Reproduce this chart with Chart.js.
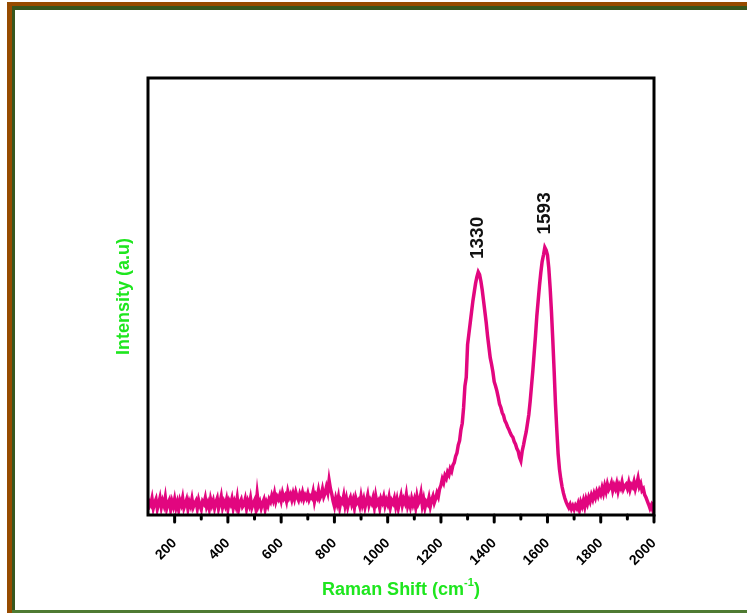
<!DOCTYPE html>
<html><head><meta charset="utf-8">
<script src="https://cdn.jsdelivr.net/npm/chart.js@4.4.0/dist/chart.umd.min.js"></script>
<style>
html,body{margin:0;padding:0;background:#fff;width:747px;height:613px;overflow:hidden}
#wrap{position:relative;width:747px;height:613px}
.b{position:absolute}
canvas{position:absolute;left:0;top:0}
</style></head><body>
<div id="wrap">
<div class="b" style="left:7px;top:2px;width:740px;height:4px;background:#964B00"></div>
<div class="b" style="left:7px;top:2px;width:5px;height:611px;background:#964B00"></div>
<div class="b" style="left:12px;top:6px;width:735px;height:4px;background:#37561E"></div>
<div class="b" style="left:12px;top:6px;width:3px;height:607px;background:#37561E"></div>
<div class="b" style="left:12px;top:610px;width:735px;height:3px;background:#4E7A32"></div>
<canvas id="c" width="747" height="613"></canvas>
</div>
<script>
const ramanShift = [
 100,105,110,115,120,125,130,135,140,145,150,155,160,165,170,175,180,185,190,195,
 200,205,210,215,220,225,230,235,240,245,250,255,260,265,270,275,280,285,290,295,
 300,305,310,315,320,325,330,335,340,345,350,355,360,365,370,375,380,385,390,395,
 400,405,410,415,420,425,430,435,440,445,450,455,460,465,470,475,480,485,490,495,
 500,505,510,515,520,525,530,535,540,545,550,555,560,565,570,575,580,585,590,595,
 600,605,610,615,620,625,630,635,640,645,650,655,660,665,670,675,680,685,690,695,
 700,705,710,715,720,725,730,735,740,745,750,755,760,765,770,775,780,785,790,795,
 800,805,810,815,820,825,830,835,840,845,850,855,860,865,870,875,880,885,890,895,
 900,905,910,915,920,925,930,935,940,945,950,955,960,965,970,975,980,985,990,995,
 1000,1005,1010,1015,1020,1025,1030,1035,1040,1045,1050,1055,1060,1065,1070,1075,1080,1085,1090,1095,
 1100,1105,1110,1115,1120,1125,1130,1135,1140,1145,1150,1155,1160,1165,1170,1175,1180,1185,1190,1195,
 1200,1205,1210,1215,1220,1225,1230,1235,1240,1245,1250,1255,1260,1265,1270,1275,1280,1285,1290,1295,
 1300,1305,1310,1315,1320,1325,1330,1335,1340,1345,1350,1355,1360,1365,1370,1375,1380,1385,1390,1395,
 1400,1405,1410,1415,1420,1425,1430,1435,1440,1445,1450,1455,1460,1465,1470,1475,1480,1485,1490,1495,
 1500,1505,1510,1515,1520,1525,1530,1535,1540,1545,1550,1555,1560,1565,1570,1575,1580,1585,1590,1595,
 1600,1605,1610,1615,1620,1625,1630,1635,1640,1645,1650,1655,1660,1665,1670,1675,1680,1685,1690,1695,
 1700,1705,1710,1715,1720,1725,1730,1735,1740,1745,1750,1755,1760,1765,1770,1775,1780,1785,1790,1795,
 1800,1805,1810,1815,1820,1825,1830,1835,1840,1845,1850,1855,1860,1865,1870,1875,1880,1885,1890,1895,
 1900,1905,1910,1915,1920,1925,1930,1935,1940,1945,1950,1955,1960,1965,1970,1975,1980,1985,1990,1995,
 2000
];
const intensity = [
 1.2,3.0,2.4,3.8,1.6,2.8,3.6,1.4,2.6,3.9,1.8,3.2,2.2,4.0,1.5,2.7,3.4,1.3,3.1,2.0,
 3.6,1.7,2.9,1.2,3.3,2.4,3.9,1.6,2.5,3.5,1.4,3.0,2.1,3.7,1.8,2.6,3.2,1.5,3.4,2.2,
 1.3,3.1,2.6,3.9,1.9,2.8,1.4,3.6,2.3,3.3,1.6,2.9,3.8,1.5,2.7,4.2,1.8,3.0,2.1,3.5,
 1.4,3.2,2.5,3.7,1.6,3.0,2.0,3.9,1.3,2.8,3.5,1.9,2.4,3.6,1.5,3.1,2.2,3.8,1.7,2.6,
 3.3,1.5,4.8,2.2,3.0,1.6,2.7,3.5,1.4,2.9,2.1,3.6,3.0,4.4,3.4,4.9,3.1,4.2,3.6,4.6,
 3.3,5.0,3.8,4.4,3.2,5.3,4.0,4.7,3.5,4.9,3.7,5.2,4.1,3.4,4.8,3.9,5.1,3.6,4.5,3.8,
 4.9,3.5,4.3,3.9,5.3,3.1,4.6,4.0,5.6,3.8,4.5,5.9,4.2,5.0,6.4,5.2,7.9,6.0,4.8,3.2,
 2.0,3.8,2.6,4.1,1.8,3.4,2.9,4.4,2.2,3.7,1.9,3.2,4.0,2.5,3.5,1.7,3.9,2.8,3.3,2.1,
 4.2,2.4,3.6,1.8,3.1,4.5,2.3,3.4,2.7,3.9,1.9,4.3,2.6,3.2,1.6,3.7,2.9,4.1,2.2,3.4,
 2.5,4.0,1.8,3.3,2.7,3.8,2.0,3.5,1.6,3.1,4.4,2.3,3.6,2.8,4.6,2.1,3.2,1.9,3.7,2.4,
 3.5,1.8,4.2,2.6,3.3,4.9,2.2,3.6,1.7,3.0,2.5,3.9,2.0,3.4,4.3,2.8,3.7,5.0,4.2,6.0,
 6.8,8.2,7.4,9.0,8.4,9.8,9.2,10.6,10.0,11.4,12.0,13.4,14.2,16.0,17.0,19.5,21.0,24.5,29.5,31.5,
 39.0,41.5,44.0,46.5,49.0,51.0,53.0,54.5,55.6,55.0,53.5,51.5,49.0,46.5,44.0,41.0,38.5,36.0,34.5,32.8,
 30.5,29.5,28.4,27.0,25.4,24.6,23.4,22.8,21.6,21.0,20.2,19.6,18.8,18.2,17.8,16.8,16.2,15.2,14.6,13.2,
 12.4,14.6,16.0,17.6,19.0,21.0,23.0,26.0,29.5,33.0,37.0,41.0,45.5,49.0,52.5,55.5,58.0,59.5,61.2,60.6,
 59.5,56.5,52.0,46.5,40.0,33.0,25.5,19.5,14.0,10.5,8.2,6.4,5.0,3.9,3.0,2.3,1.7,2.4,1.4,2.1,
 1.3,2.2,1.6,2.6,1.2,2.9,2.0,3.3,1.9,3.6,2.6,4.0,3.1,4.5,3.6,4.9,4.0,5.3,4.4,5.6,
 4.8,6.2,5.0,6.6,5.4,7.0,5.8,6.4,7.3,5.6,6.8,6.0,7.2,5.5,6.9,6.2,7.5,5.9,6.6,7.0,
 6.1,7.4,5.8,6.9,6.4,7.6,6.0,7.1,8.4,6.5,7.2,5.6,6.0,4.6,4.0,3.2,2.4,1.5,2.2,1.2,
 3.0
];
const majorTicks = [200,400,600,800,1000,1200,1400,1600,1800,2000];
const minorTicks = [300,500,700,900,1100,1300,1500,1700,1900];
const peakLabels = ['1330','1593'];
const peakX = [1341,1594];
const peakY = [55.6,61.2];

const FONT = '"Liberation Sans", Arial, sans-serif';
const GREEN = '#1ee61e';

const decor = {
  id:'decor',
  afterDatasetsDraw(chart){
    const {ctx, chartArea:a, scales:{x,y}} = chart;
    ctx.save();
    ctx.strokeStyle='#000'; ctx.lineCap='round'; ctx.lineWidth=3;
    for (const v of majorTicks){ const px=x.getPixelForValue(v); ctx.beginPath(); ctx.moveTo(px,a.bottom); ctx.lineTo(px,a.bottom+7); ctx.stroke(); }
    for (const v of minorTicks){ const px=x.getPixelForValue(v); ctx.beginPath(); ctx.moveTo(px,a.bottom); ctx.lineTo(px,a.bottom+4); ctx.stroke(); }
    ctx.lineCap='butt'; ctx.lineJoin='miter';
    ctx.strokeRect(a.left, a.top, a.right-a.left, a.bottom-a.top);
    ctx.fillStyle='#111'; ctx.font='bold 19px '+FONT;
    ctx.textAlign='left'; ctx.textBaseline='middle';
    for (let i=0;i<peakLabels.length;i++){
      const px=x.getPixelForValue(peakX[i]), py=y.getPixelForValue(peakY[i]);
      ctx.save(); ctx.translate(px-1, py-13); ctx.rotate(-Math.PI/2);
      ctx.fillText(peakLabels[i],0,0); ctx.restore();
    }
    const main='Raman Shift (cm', sup='-1', end=')';
    ctx.fillStyle=GREEN; ctx.textBaseline='alphabetic'; ctx.textAlign='left';
    ctx.font='bold 18px '+FONT; const w1=ctx.measureText(main).width, w3=ctx.measureText(end).width;
    ctx.font='bold 11px '+FONT; const w2=ctx.measureText(sup).width;
    const cx=(a.left+a.right)/2, base=595;
    let sx=cx-(w1+w2+w3)/2;
    ctx.font='bold 18px '+FONT; ctx.fillText(main,sx,base); sx+=w1;
    ctx.font='bold 11px '+FONT; ctx.fillText(sup,sx,base-9); sx+=w2;
    ctx.font='bold 18px '+FONT; ctx.fillText(end,sx,base);
    ctx.restore();
  }
};

new Chart(document.getElementById('c'), {
  type:'line',
  data:{ datasets:[{
    data: ramanShift.map((v,i)=>({x:v,y:intensity[i]})),
    borderColor:'#E2067F', borderWidth:3.5, pointRadius:0, tension:0, fill:false
  }]},
  options:{
    responsive:false, animation:false,
    layout:{padding:{left:0,top:78,right:93,bottom:0}},
    plugins:{legend:{display:false}, tooltip:{enabled:false}},
    scales:{
      x:{type:'linear', min:100, max:2000,
        afterBuildTicks: s => { s.ticks = majorTicks.map(v=>({value:v})); },
        afterFit: s => { s.height = 98; },
        grid:{display:false}, border:{display:false},
        ticks:{autoSkip:false, minRotation:45, maxRotation:45, padding:12, color:'#000',
               font:{family:FONT, size:14, weight:'bold'}, callback: v => String(v)}
      },
      y:{min:0, max:100,
        afterFit: s => { s.width = 148; },
        ticks:{display:false}, grid:{display:false}, border:{display:false},
        title:{display:true, text:'Intensity (a.u)', color:GREEN,
               font:{family:FONT, size:18, weight:'bold'}, padding:{top:113,bottom:0}}
      }
    }
  },
  plugins:[decor]
});
</script>
</body></html>
